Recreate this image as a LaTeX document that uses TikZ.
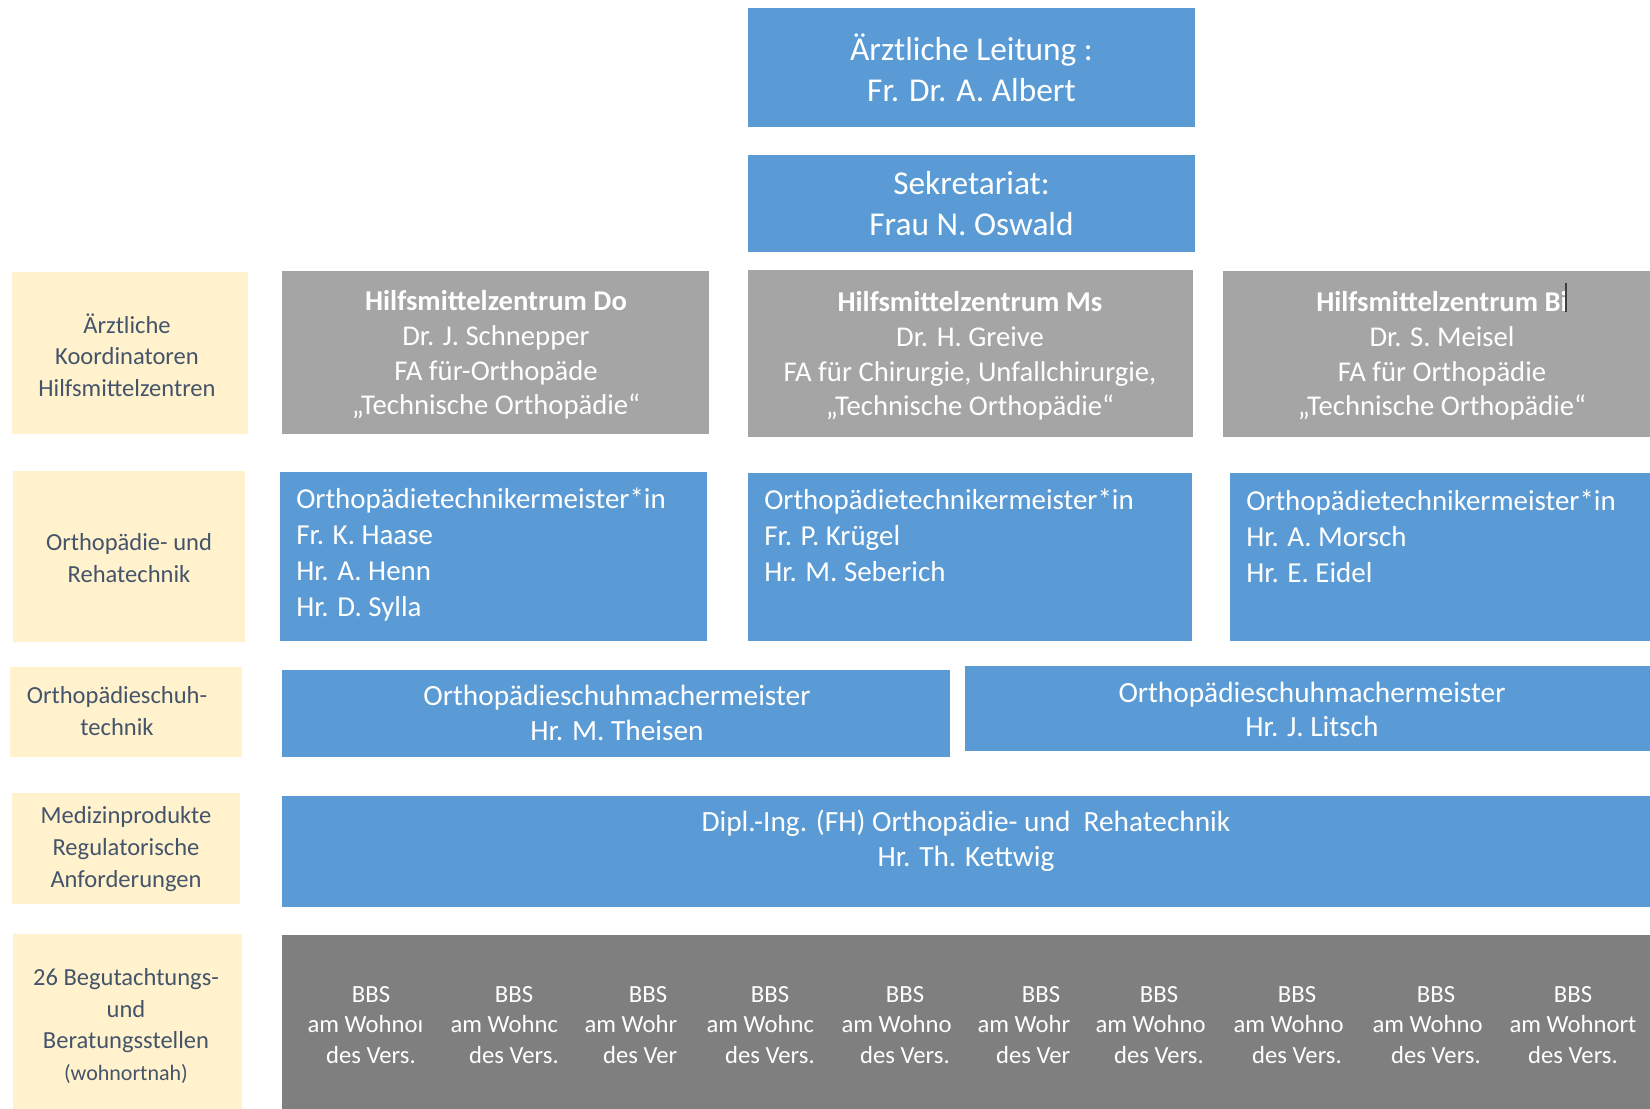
\documentclass[tikz,border=0pt]{standalone}
\usepackage{fontspec}
\setmainfont{Carlito}
\usetikzlibrary{fit}
\definecolor{orgblue}{HTML}{5B9BD5}
\definecolor{centregray}{HTML}{A5A5A5}
\definecolor{bbsgray}{HTML}{7F7F7F}
\definecolor{labelcream}{HTML}{FFF2CC}
\definecolor{labelslate}{HTML}{44546A}
\newcommand{\wohn}[1]{\makebox[0pt][l]{#1}\phantom{am Wohnort}}
\newcommand{\verst}[1]{\makebox[0pt][l]{#1}\phantom{des Vers.}}
\tikzset{
  box/.style={rectangle, inner sep=0pt, outer sep=0pt},
  bluebox/.style={box, fill=orgblue},
  centrebox/.style={box, fill=centregray},
  labelbox/.style={box, fill=labelcream},
  bbsbox/.style={box, fill=bbsgray},
  leadtext/.style={inner sep=0pt, align=center, text=white, font=\fontsize{25}{31}\selectfont},
  centretext/.style={inner sep=0pt, align=center, text=white, font=\fontsize{21.5}{26}\selectfont},
  techtext/.style={inner sep=0pt, align=left, text=white, font=\fontsize{21.7}{27}\selectfont},
  shoetext/.style={inner sep=0pt, align=center, text=white, font=\fontsize{22}{26}\selectfont},
  labeltext/.style={inner sep=0pt, align=center, text=labelslate, font=\fontsize{18.4}{23.7}\selectfont},
  bbstext/.style={inner sep=0pt, align=center, text=white, font=\fontsize{18.5}{22.9}\selectfont},
  cursormark/.style={draw=black!75, line width=0.8pt}
}
\begin{document}
\begin{tikzpicture}[x=0.75pt, y=-0.75pt]
\useasboundingbox (0,0) rectangle (1650,1108);
\clip (0,0) rectangle (1650,1108);
\node[bluebox, fit={(748,8) (1195,127)}] (lead) {};
\node[bluebox, fit={(748,155) (1195,252)}] (sek) {};
\node[leadtext] (lead-t) at (lead) {Ärztliche Leitung :\\Fr. Dr. A. Albert};
\node[leadtext] (sek-t) at (sek) {Sekretariat:\\Frau N. Oswald};
\node[labelbox, fit={(12,272) (248,434)}] (lab1) {};
\node[labelbox, fit={(13,471) (245,642)}] (lab2) {};
\node[labelbox, fit={(10,667) (242,757)}] (lab3) {};
\node[labelbox, fit={(12,793) (240,904)}] (lab4) {};
\node[labelbox, fit={(13,934) (242,1110)}] (lab5) {};
\node[labeltext] (lab1-t) at (127,355) {Ärztliche\\Koordinatoren\\Hilfsmittelzentren};
\node[labeltext] (lab2-t) at (129,558) {Orthopädie- und\\Rehatechnik};
\node[labeltext] (lab3-t) at (117,711) {Orthopädieschuh-\\technik};
\node[labeltext] (lab4-t) at (126,849) {Medizinprodukte\\Regulatorische\\Anforderungen};
\node[labeltext] (lab5-t) at (126,1026) {26 Begutachtungs-\\und\\Beratungsstellen\\{\fontsize{16.5}{23.7}\selectfont(wohnortnah)}};
\node[centrebox, fit={(282,271) (709,434)}] (hzdo) {};
\node[centrebox, fit={(748,270) (1193,437)}] (hzms) {};
\node[centrebox, fit={(1223,271) (1662,437)}] (hzbi) {};
\node[centretext] (hzdo-t) at (496,355) {\textbf{Hilfsmittelzentrum Do}\\Dr. J. Schnepper\\FA für-Orthopäde\\„Technische Orthopädie“};
\node[centretext] (hzms-t) at (970,356) {\textbf{Hilfsmittelzentrum Ms}\\Dr. H. Greive\\FA für Chirurgie, Unfallchirurgie,\\„Technische Orthopädie“};
\node[centretext] (hzbi-t) at (1442,356) {\textbf{Hilfsmittelzentrum Bi}\\Dr. S. Meisel\\FA für Orthopädie\\„Technische Orthopädie“};
\draw[cursormark] (1566,283) -- (1566,312);
\node[bluebox, fit={(280,472) (707,641)}] (otdo) {};
\node[bluebox, fit={(748,473) (1192,641)}] (otms) {};
\node[bluebox, fit={(1230,473) (1662,641)}] (otbi) {};
\node[techtext, anchor=west] (otdo-t) at (296,555) {Orthopädietechnikermeister*in\\Fr. K. Haase\\Hr. A. Henn\\Hr. D. Sylla};
\node[techtext, anchor=west] (otms-t) at (764,535) {Orthopädietechnikermeister*in\\Fr. P. Krügel\\Hr. M. Seberich};
\node[techtext, anchor=west] (otbi-t) at (1246,536) {Orthopädietechnikermeister*in\\Hr. A. Morsch\\Hr. E. Eidel};
\node[bluebox, fit={(282,670) (950,757)}] (osdo) {};
\node[bluebox, fit={(965,666) (1660,751)}] (osbi) {};
\node[shoetext] (osdo-t) at (617,713) {Orthopädieschuhmachermeister\\Hr. M. Theisen};
\node[shoetext] (osbi-t) at (1312,709.5) {Orthopädieschuhmachermeister\\Hr. J. Litsch};
\node[bluebox, fit={(282,796) (1662,907)}] (mpr) {};
\node[shoetext] (mpr-t) at (966,841) {Dipl.-Ing. (FH) Orthopädie- und~ Rehatechnik\\Hr. Th. Kettwig};
\node[bbsbox, fit={(282,935) (1662,1110)}] (bbs) {};
\foreach \bx/\wo/\ve [count=\i] in {371/\wohn{am Wohnoı}/des Vers., 514/\wohn{am Wohnc}/des Vers., 648/\wohn{am Wohr}/\verst{des Ver}, 770/\wohn{am Wohnc}/des Vers., 905/\wohn{am Wohno}/des Vers., 1041/\wohn{am Wohr}/\verst{des Ver}, 1159/\wohn{am Wohno}/des Vers., 1297/\wohn{am Wohno}/des Vers., 1436/\wohn{am Wohno}/des Vers., 1573/am Wohnort/des Vers.}
  \node[bbstext] (bbs\i) at (\bx,1025) {BBS\\\wo\\\ve};
\end{tikzpicture}
\end{document}
